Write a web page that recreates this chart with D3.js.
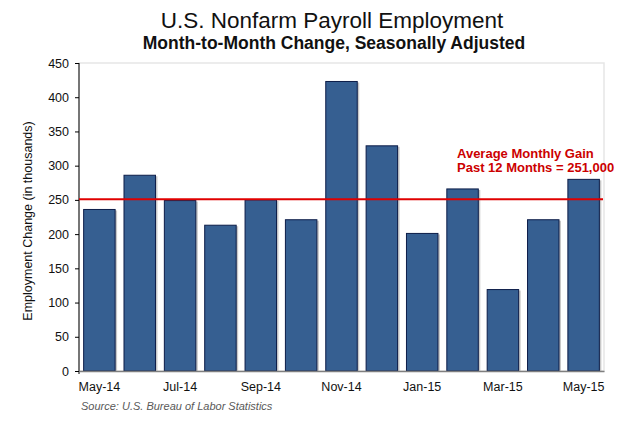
<!DOCTYPE html>
<html lang="en">
<head>
<meta charset="UTF-8">
<title>U.S. Nonfarm Payroll Employment</title>
<script src="https://d3js.org/d3.v7.min.js"></script>
<style>
  body { margin: 0; background: #fff; }
  text { font-family: "Liberation Sans", Arial, sans-serif; }
</style>
</head>
<body>
<div id="chart"></div>
<script>
// data (thousands of jobs)
const months = ["May-14", "Jun-14", "Jul-14", "Aug-14", "Sep-14", "Oct-14", "Nov-14",
                "Dec-14", "Jan-15", "Feb-15", "Mar-15", "Apr-15", "May-15"];
const payrollChange = [236, 286, 249, 213, 250, 221, 423, 329, 201, 266, 119, 221, 280];
const yTicks = [0, 50, 100, 150, 200, 250, 300, 350, 400, 450];
const avgGain = 251;

const width = 640, height = 425;
const plotLeft = 79, plotRight = 604, plotTop = 63, plotBottom = 371;

const svg = d3.select("#chart").append("svg")
    .attr("width", width)
    .attr("height", height);

const x = d3.scaleBand()
    .domain(months)
    .range([plotLeft, plotRight])
    .paddingInner(0.22)
    .paddingOuter(0.115);

const y = d3.scaleLinear()
    .domain([0, 450])
    .range([plotBottom, plotTop]);

// plot frame (light grey top/right)
svg.append("rect")
    .attr("x", plotLeft).attr("y", plotTop)
    .attr("width", plotRight - plotLeft).attr("height", plotBottom - plotTop)
    .attr("fill", "none")
    .attr("stroke", "#e6e6e6")
    .attr("stroke-width", 1.5);

// titles
svg.append("text")
    .attr("x", 332).attr("y", 28)
    .attr("text-anchor", "middle")
    .attr("font-size", 22.5)
    .attr("fill", "#111")
    .text("U.S. Nonfarm Payroll Employment");

svg.append("text")
    .attr("x", 334).attr("y", 49)
    .attr("text-anchor", "middle")
    .attr("font-size", 17.5)
    .attr("font-weight", "bold")
    .attr("fill", "#111")
    .text("Month-to-Month Change, Seasonally Adjusted");

// bar shadows
svg.append("g").selectAll("rect")
    .data(payrollChange)
    .join("rect")
    .attr("x", (d, i) => x(months[i]) + 2)
    .attr("y", d => y(d) + 1)
    .attr("width", x.bandwidth())
    .attr("height", d => y(0) - y(d) - 1)
    .attr("fill", "#c8c8c8");

// bars
svg.append("g").selectAll("rect")
    .data(payrollChange)
    .join("rect")
    .attr("x", (d, i) => x(months[i]))
    .attr("y", d => y(d))
    .attr("width", x.bandwidth())
    .attr("height", d => y(0) - y(d))
    .attr("fill", "#365f91")
    .attr("stroke", "#0c1c48")
    .attr("stroke-width", 1);

// y axis
const yAxis = svg.append("g")
    .attr("transform", `translate(${plotLeft},0)`)
    .call(d3.axisLeft(y).tickValues(yTicks).tickSize(4).tickPadding(6).tickSizeOuter(0));
yAxis.select(".domain").attr("stroke", "#000").attr("d", `M0,${plotTop}V${plotBottom + 3}`);
yAxis.selectAll("line").attr("stroke", "#000");
yAxis.selectAll("text")
    .attr("font-family", "Liberation Sans, Arial, sans-serif")
    .attr("font-size", 12.5)
    .attr("fill", "#111");

// x axis (labels every other month)
const xAxis = svg.append("g")
    .attr("transform", `translate(0,${plotBottom})`)
    .call(d3.axisBottom(x).tickValues(months.filter((m, i) => i % 2 === 0))
        .tickSize(0).tickPadding(11).tickSizeOuter(0));
xAxis.select(".domain").attr("stroke", "#7f7f7f").attr("stroke-width", 1.5);
xAxis.selectAll("text")
    .attr("font-family", "Liberation Sans, Arial, sans-serif")
    .attr("font-size", 12.5)
    .attr("fill", "#111");

// y axis title
svg.append("text")
    .attr("transform", `translate(32,${(plotTop + plotBottom) / 2 + 4}) rotate(-90)`)
    .attr("text-anchor", "middle")
    .attr("font-size", 12.5)
    .attr("fill", "#111")
    .text("Employment Change (in thousands)");

// average line + label
svg.append("line")
    .attr("x1", plotLeft).attr("x2", plotRight - 1)
    .attr("y1", y(avgGain)).attr("y2", y(avgGain))
    .attr("stroke", "#e00000")
    .attr("stroke-width", 2);

const note = svg.append("text")
    .attr("x", 457)
    .attr("font-size", 13)
    .attr("font-weight", "bold")
    .attr("fill", "#cc0000");
note.append("tspan").attr("x", 457).attr("y", 158).text("Average Monthly Gain");
note.append("tspan").attr("x", 457).attr("y", 172).text("Past 12 Months = 251,000");

// source
svg.append("text")
    .attr("x", 81).attr("y", 410)
    .attr("font-size", 11)
    .attr("font-style", "italic")
    .attr("fill", "#595959")
    .text("Source: U.S. Bureau of Labor Statistics");
</script>
</body>
</html>
